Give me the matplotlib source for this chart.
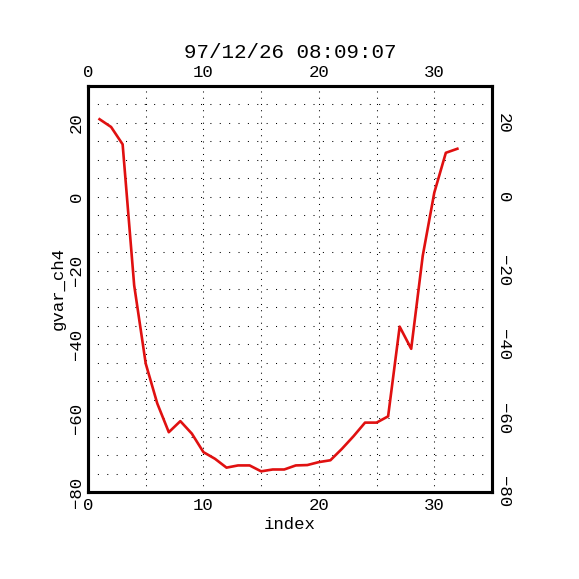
import numpy as np
import matplotlib
matplotlib.use('Agg')
import matplotlib.pyplot as plt

# dados
index = np.arange(1, 33)
gvar_ch4 = [21.0, 18.9, 14.2, -24.0, -45.2, -56.0, -63.8, -60.8, -64.2, -69.2,
            -71.0, -73.4, -72.8, -72.8, -74.4, -73.9, -73.9, -72.8, -72.7, -71.9,
            -71.4, -68.3, -64.9, -61.2, -61.2, -59.5, -35.2, -41.2, -16.0, 1.1,
            11.9, 13.0]
xticks = [0, 10, 20, 30]
yticks = [-80, -60, -40, -20, 0, 20]
titulo = '97/12/26 08:09:07'

plt.rcParams['font.family'] = ['Liberation Mono', 'DejaVu Sans Mono']
plt.rcParams['font.size'] = 12.5

fig = plt.figure(figsize=(5.79, 5.79), dpi=100)
ax = fig.add_axes([88/579, 87/579, 404/579, 406/579])
ax.set_xlim(0, 35)
ax.set_ylim(-80, 30)

# grade pontilhada a cada 5
for v in np.arange(5, 35, 5):
    ax.axvline(v, color='black', lw=0.75, ls=(0, (1, 5)), zorder=1)
for v in np.arange(-75, 30, 5):
    ax.axhline(v, color='black', lw=0.75, ls=(0, (1, 8)), zorder=1)

ax.plot(index, gvar_ch4, color='#e01010', lw=1.9, zorder=3)

for s in ax.spines.values():
    s.set_linewidth(2.2)

ax.set_xticks(xticks)
ax.set_yticks(yticks)
ax.tick_params(axis='x', length=0, pad=4, top=True, labeltop=True)
ax.tick_params(axis='y', length=0, pad=3, labelrotation=90)
for lab in ax.get_yticklabels():
    lab.set_va('center')

ax2 = ax.twinx()
ax2.set_ylim(ax.get_ylim())
ax2.set_yticks(yticks)
ax2.tick_params(axis='y', length=0, pad=3, labelrotation=270)
for lab in ax2.get_yticklabels():
    lab.set_va('center')
for s in ax2.spines.values():
    s.set_linewidth(2.2)

ax.set_xlabel('index', labelpad=3)
ax.set_ylabel('gvar_ch4', labelpad=2)
ax.set_title(titulo, pad=20)

fig.savefig('out.png', dpi=100)
